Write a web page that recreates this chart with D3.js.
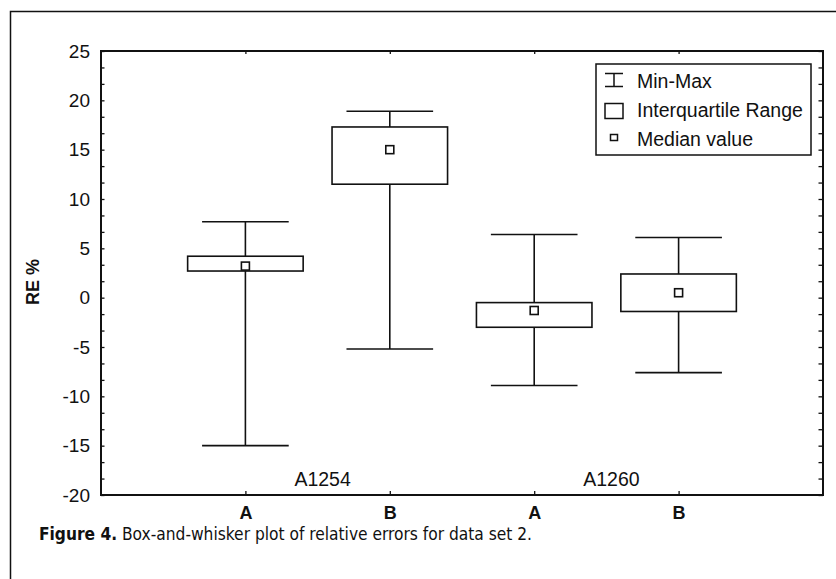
<!DOCTYPE html>
<html>
<head>
<meta charset="utf-8">
<script src="https://cdnjs.cloudflare.com/ajax/libs/d3/7.8.5/d3.min.js"></script>
<style>
  body { margin: 0; background: #fff; }
  svg { display: block; }
  .tick text { font-family: "Liberation Sans", Arial, sans-serif; }
</style>
</head>
<body>
<div id="chart"></div>
<script>
var svgWidth = 836
var svgHeight = 579

// Plot frame
var margin = {top: 51, right: 13, bottom: 84, left: 101}
var plotWidth = svgWidth - margin.left - margin.right;
var plotHeight = svgHeight - margin.top - margin.bottom;

// Data
var groups = ["A1254", "A1254", "A1260", "A1260"];
var subLabels = ["A", "B", "A", "B"];
var mins = [-15.0, -5.2, -8.9, -7.6];
var q1s = [2.7, 11.5, -3.0, -1.4];
var medians = [3.2, 15.0, -1.3, 0.5];
var q3s = [4.2, 17.3, -0.5, 2.4];
var maxs = [7.7, 18.9, 6.4, 6.1];
var yTickValues = [-20, -15, -10, -5, 0, 5, 10, 15, 20, 25];
var legendLabels = ["Min-Max", "Interquartile Range", "Median value"];

var data = groups.map(function(g, i) {
    return {id: g + "-" + subLabels[i], group: g, sub: subLabels[i],
            min: mins[i], q1: q1s[i], median: medians[i], q3: q3s[i], max: maxs[i]};
});

var svg = d3.select("#chart")
    .append("svg")
    .attr("width", svgWidth)
    .attr("height", svgHeight)

// outer figure frame (runs off right and bottom)
svg.append("rect")
    .attr("x", 10.5).attr("y", 11.5)
    .attr("width", 900).attr("height", 700)
    .attr("fill", "none").attr("stroke", "#111").attr("stroke-width", 1.5);

var chartGroup = svg.append("g")
    .attr("transform", `translate(${margin.left}, ${margin.top})`);

// Scales
var xScale = d3.scalePoint()
    .domain(data.map(d => d.id))
    .range([0, plotWidth])
    .padding(1);

var yScale = d3.scaleLinear()
    .domain([-20, 25])
    .range([plotHeight, 0]);

var minorTicks = d3.range(0, 28).map(i => -20 + i * 5 / 3);

// Left axis labels (plain hyphen minus like the original)
chartGroup.append("g")
    .call(d3.axisLeft(yScale).tickValues(yTickValues).tickSize(0).tickPadding(11)
        .tickFormat(d => String(d)))
    .call(g => g.select(".domain").remove())
    .selectAll("text")
    .attr("font-size", 19)
    .attr("fill", "#111");

// Left ticks, inward
chartGroup.append("g")
    .call(d3.axisRight(yScale).tickValues(minorTicks).tickSize(3.5).tickFormat(""))
    .call(g => g.select(".domain").remove())
    .selectAll("line").attr("stroke", "#111").attr("stroke-width", 1.3);

// Right axis ticks, inward
chartGroup.append("g")
    .attr("transform", `translate(${plotWidth},0)`)
    .call(d3.axisLeft(yScale).tickValues(minorTicks).tickSize(4.5).tickFormat(""))
    .call(g => g.select(".domain").remove())
    .selectAll("line").attr("stroke", "#111").attr("stroke-width", 1.3);

// Bottom axis: labels below, ticks inward
chartGroup.append("g")
    .attr("transform", `translate(0, ${plotHeight})`)
    .call(d3.axisBottom(xScale).tickSize(0).tickPadding(11).tickFormat((d, i) => subLabels[i]))
    .call(g => g.select(".domain").remove())
    .selectAll("text")
    .attr("font-size", 18)
    .attr("font-weight", "bold")
    .attr("fill", "#111");

chartGroup.append("g")
    .attr("transform", `translate(0, ${plotHeight})`)
    .call(d3.axisTop(xScale).tickSize(4).tickFormat(""))
    .call(g => g.select(".domain").remove())
    .selectAll("line").attr("stroke", "#111").attr("stroke-width", 1.3);

chartGroup.append("g")
    .call(d3.axisBottom(xScale).tickSize(3).tickFormat(""))
    .call(g => g.select(".domain").remove())
    .selectAll("line").attr("stroke", "#111").attr("stroke-width", 1.3);

// Plot frame
chartGroup.append("rect")
    .attr("x", 0).attr("y", 0)
    .attr("width", plotWidth).attr("height", plotHeight)
    .attr("fill", "none").attr("stroke", "#111").attr("stroke-width", 2);

var step = xScale.step();
var boxW = step * 0.8;
var capW = step * 0.6;

var boxes = chartGroup.selectAll(".box")
    .data(data)
    .enter()
    .append("g")
    .attr("class", "box");

// whisker stem
boxes.append("line")
    .attr("x1", d => xScale(d.id)).attr("x2", d => xScale(d.id))
    .attr("y1", d => yScale(d.min)).attr("y2", d => yScale(d.max))
    .attr("stroke", "#111").attr("stroke-width", 1.6);

// caps
boxes.append("line")
    .attr("x1", d => xScale(d.id) - capW / 2).attr("x2", d => xScale(d.id) + capW / 2)
    .attr("y1", d => yScale(d.max)).attr("y2", d => yScale(d.max))
    .attr("stroke", "#111").attr("stroke-width", 1.6);
boxes.append("line")
    .attr("x1", d => xScale(d.id) - capW / 2).attr("x2", d => xScale(d.id) + capW / 2)
    .attr("y1", d => yScale(d.min)).attr("y2", d => yScale(d.min))
    .attr("stroke", "#111").attr("stroke-width", 1.6);

// interquartile box
boxes.append("rect")
    .attr("x", d => xScale(d.id) - boxW / 2)
    .attr("y", d => yScale(d.q3))
    .attr("width", boxW)
    .attr("height", d => yScale(d.q1) - yScale(d.q3))
    .attr("fill", "#fff").attr("stroke", "#111").attr("stroke-width", 1.6);

// median marker
boxes.append("rect")
    .attr("x", d => xScale(d.id) - 4)
    .attr("y", d => yScale(d.median) - 4)
    .attr("width", 8).attr("height", 8)
    .attr("fill", "#fff").attr("stroke", "#111").attr("stroke-width", 1.6);

// Group labels
var groupNames = Array.from(new Set(groups));
chartGroup.selectAll(".groupLabel")
    .data(groupNames)
    .enter()
    .append("text")
    .attr("class", "groupLabel")
    .attr("x", g => {
        var ids = data.filter(d => d.group === g).map(d => xScale(d.id));
        return d3.mean(ids) + 5;
    })
    .attr("y", plotHeight - 9)
    .attr("text-anchor", "middle")
    .attr("font-family", "Liberation Sans, Arial, sans-serif")
    .attr("font-size", 19.5)
    .attr("fill", "#111")
    .text(g => g);

// Y axis title
svg.append("text")
    .attr("transform", "translate(39, 282) rotate(-90)")
    .attr("text-anchor", "middle")
    .attr("font-family", "Liberation Sans, Arial, sans-serif")
    .attr("font-size", 18)
    .attr("font-weight", "bold")
    .attr("fill", "#111")
    .text("RE %");

// Legend
var legend = svg.append("g").attr("transform", "translate(596, 64)");
legend.append("rect")
    .attr("width", 215).attr("height", 91)
    .attr("fill", "#fff").attr("stroke", "#111").attr("stroke-width", 1.5);

legend.selectAll(".legText")
    .data(legendLabels)
    .enter()
    .append("text")
    .attr("x", 41)
    .attr("y", (d, i) => 23.5 + i * 29.3)
    .attr("font-family", "Liberation Sans, Arial, sans-serif")
    .attr("font-size", 19.5)
    .attr("fill", "#111")
    .text(d => d);

// Min-Max icon
legend.append("path")
    .attr("d", "M9,9.5H27M18,9.5V22.5M9,22.5H27")
    .attr("fill", "none").attr("stroke", "#111").attr("stroke-width", 1.5);
// IQR icon
legend.append("rect")
    .attr("x", 9).attr("y", 39.5).attr("width", 18).attr("height", 15)
    .attr("fill", "none").attr("stroke", "#111").attr("stroke-width", 1.5);
// Median icon
legend.append("rect")
    .attr("x", 14.5).attr("y", 70.5).attr("width", 7).attr("height", 6)
    .attr("fill", "none").attr("stroke", "#111").attr("stroke-width", 1.5);

// Caption
var caption = svg.append("text")
    .attr("x", 39)
    .attr("y", 540)
    .attr("font-family", "Liberation Sans Narrow, DejaVu Sans Condensed, sans-serif")
    .attr("font-size", 18.5)
    .attr("textLength", 493)
    .attr("lengthAdjust", "spacingAndGlyphs")
    .attr("fill", "#111");
caption.append("tspan").attr("font-weight", "bold").text("Figure 4.");
caption.append("tspan").text(" Box-and-whisker plot of relative errors for data set 2.");
</script>
</body>
</html>
